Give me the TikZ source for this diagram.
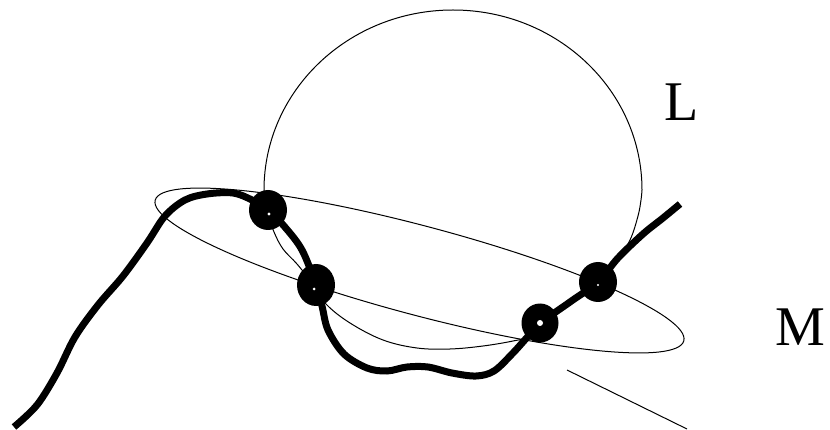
\documentclass[tikz,border=0pt]{standalone}
\usepackage{fontspec}
\setmainfont{Liberation Serif}
\begin{document}
\begin{tikzpicture}[x=1pt,y=-1pt,
  thin curve/.style={line width=1pt},
  thick curve/.style={line width=7pt},
  blob/.style={fill=black},
  hole/.style={fill=white},
  lbl/.style={inner sep=0pt,anchor=base west,font=\fontsize{56}{60}\selectfont}]
\useasboundingbox (0,0) rectangle (830,430);
% ellipse M
\draw[thin curve, rotate around={-14.9:(419.5,270.5)}] (419.5,270.5) ellipse [x radius=273.5pt, y radius=44.5pt];
% closed curve L
\coordinate (Lr) at (642,190);
\coordinate (Ll) at (264,190);
\draw[thin curve] (Lr) arc[start angle=0, end angle=180, x radius=189pt, y radius=180pt]
  -- plot[smooth, tension=0.6] coordinates {
 (264,190) (265,202) (268,214) (274,232) (283,249) (297,264) (312,283)
 (326,304) (350,323) (383,340) (417,348) (450,349) (483,346) (513,341) (531,336)
 (544,321) (568,303) (596,282) (616,262) (630,240) (638,216) (641,200) (642,190)};
% thick curve
\draw[thick curve] plot[smooth, tension=0.55] coordinates {
 (14,427) (37,405) (57,373) (75,337) (98,305) (123,276) (147,243) (165,216)
 (185,200) (207,194) (233,193) (252,200) (268,210) (284,226) (302,250) (316,285)
 (322,306) (328,330) (344,354) (367,368) (387,371) (407,367) (428,367) (452,373)
 (476,376) (494,371) (513,353) (540,324) (570,302) (598,282) (618,258) (643,234)
 (663,218) (680,204)};
% dots
\fill[blob] (268,210) ellipse [x radius=19pt, y radius=20pt];
\fill[hole] (269,214) circle (1.6);
\fill[blob] (316,285) ellipse [x radius=19pt, y radius=21pt];
\fill[hole] (314,289) circle (1.5);
\fill[blob] (540,323) ellipse [x radius=18.5pt, y radius=19.5pt];
\fill[hole] (540,323) circle (3);
\fill[blob] (598,282) ellipse [x radius=19pt, y radius=20pt];
\fill[hole] (598,285) circle (1.2);
% straight line
\coordinate (s1) at (567,370);
\coordinate (s2) at (687,429);
\draw[thin curve] (s1) -- (s2);
% labels
\node[lbl] (L) at (664,121) {L};
\node[lbl] (M) at (775,345) {M};
\end{tikzpicture}
\end{document}
